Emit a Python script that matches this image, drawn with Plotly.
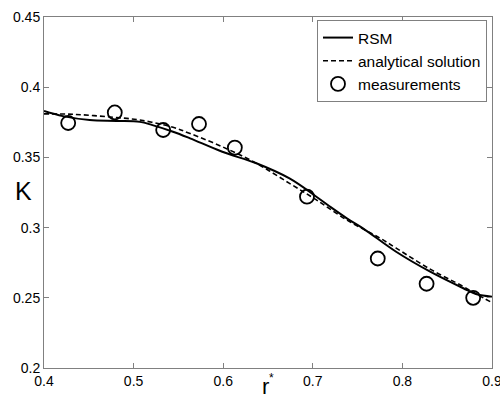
import plotly.graph_objects as go

rsm_x = [0.40, 0.421, 0.451, 0.481, 0.507, 0.521, 0.544, 0.563, 0.599, 0.637,
         0.674, 0.704, 0.719, 0.738, 0.756, 0.793, 0.831, 0.868, 0.883, 0.90]
rsm_y = [0.383, 0.3794, 0.3766, 0.376, 0.3753, 0.373, 0.3683, 0.3636, 0.354, 0.3458,
         0.335, 0.322, 0.315, 0.3066, 0.2995, 0.2828, 0.2686, 0.2568, 0.2525, 0.2508]

ana_x = [0.40, 0.432, 0.470, 0.507, 0.544, 0.563, 0.599, 0.637, 0.674, 0.704,
         0.738, 0.775, 0.793, 0.831, 0.868, 0.883, 0.90]
ana_y = [0.381, 0.3807, 0.379, 0.3766, 0.3714, 0.367, 0.3576, 0.3458, 0.3315, 0.3197,
         0.3054, 0.2925, 0.2854, 0.2704, 0.258, 0.2525, 0.2466]

meas_x = [0.427, 0.479, 0.533, 0.573, 0.613, 0.6935, 0.7725, 0.827, 0.879]
meas_y = [0.3745, 0.382, 0.3695, 0.3738, 0.357, 0.322, 0.278, 0.260, 0.250]

x_ticks = [0.4, 0.5, 0.6, 0.7, 0.8, 0.9]
y_ticks = [0.2, 0.25, 0.3, 0.35, 0.4, 0.45]

FONT = "Liberation Sans, Arial"

fig = go.Figure()
fig.add_trace(go.Scatter(x=rsm_x, y=rsm_y, mode="lines", name="RSM",
                         line=dict(color="black", width=2, shape="spline")))
fig.add_trace(go.Scatter(x=ana_x, y=ana_y, mode="lines", name="analytical solution",
                         line=dict(color="black", width=1.6, dash="5px,3px", shape="spline")))
fig.add_trace(go.Scatter(x=meas_x, y=meas_y, mode="markers", name="measurements",
                         marker=dict(symbol="circle-open", size=14, color="black",
                                     line=dict(width=1.8, color="black"))))

axis_common = dict(showgrid=False, zeroline=False, showline=True, linecolor="#808080",
                   linewidth=1, mirror="ticks", ticks="inside", ticklen=5,
                   tickcolor="#808080", automargin=False, ticklabeloverflow="allow",
                   tickfont=dict(family=FONT, size=14, color="black"))

fig.update_xaxes(range=[0.4, 0.9], tickvals=x_ticks,
                 ticktext=["0.4", "0.5", "0.6", "0.7", "0.8", "0.9"], ticklabelstandoff=0,
                 **axis_common)
fig.update_yaxes(range=[0.2, 0.45], tickvals=y_ticks,
                 ticktext=["0.2", "0.25", "0.3", "0.35", "0.4", "0.45"], ticklabelstandoff=0,
                 **axis_common)

W, H = 500, 401
L, R, T, B = 44, 8, 17, 33
pw, ph = W - L - R, H - T - B


def px2paper(px, py):
    return (px - L) / pw, (H - B - py) / ph


ann = []
for text, px, py, size in [("K", 23, 191, 25), ("r", 265, 386, 22), ("*", 271, 378, 12)]:
    ax, ay = px2paper(px, py)
    ann.append(dict(text=text, x=ax, y=ay, xref="paper", yref="paper", showarrow=False,
                    xanchor="center", yanchor="middle",
                    font=dict(family=FONT, size=size, color="black")))

lx, ly = px2paper(487, 20)
fig.update_layout(
    template="none",
    width=W, height=H,
    margin=dict(l=L, r=R, t=T, b=B, pad=0),
    paper_bgcolor="white", plot_bgcolor="white",
    showlegend=True,
    legend=dict(x=lx, y=ly, xanchor="right", yanchor="top",
                bordercolor="#808080", borderwidth=1, bgcolor="white",
                font=dict(family=FONT, size=15.5, color="black"),
                tracegroupgap=0, itemwidth=30),
    annotations=ann,
)

fig.write_html("out.html", config={"displayModeBar": False},
               post_script="document.body.style.margin='0';document.body.style.overflow='hidden';")
